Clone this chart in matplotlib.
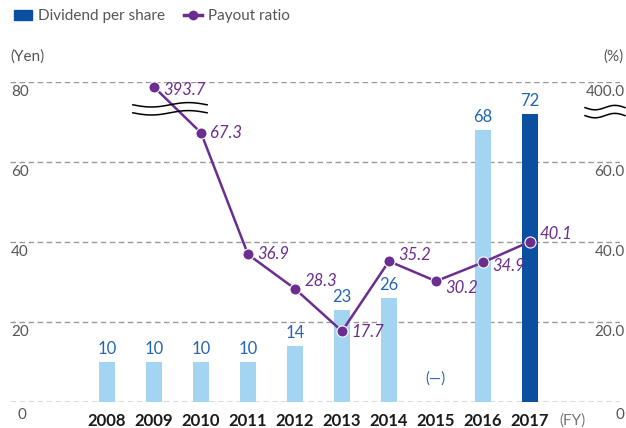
import numpy as np
import matplotlib.pyplot as plt
from matplotlib.patches import Patch
from matplotlib.lines import Line2D

plt.rcParams['font.family'] = ['Lato', 'DejaVu Sans']

years = [2008, 2009, 2010, 2011, 2012, 2013, 2014, 2015, 2016, 2017]
dividend = [10, 10, 10, 10, 14, 23, 26, None, 68, 72]
payout = [None, 393.7, 67.3, 36.9, 28.3, 17.7, 35.2, 30.2, 34.9, 40.1]
left_ticks = [0, 20, 40, 60, 80]
right_ticks = ['0', '20.0', '40.0', '60.0', '400.0']

# vertical nudge of each payout label (data units)
lbl_dy = [0, -0.7, 0, 0, 2.0, -0.3, 1.5, -1.7, -1.0, 2.0]

light = '#a3d4f1'
dark = '#0a4fa0'
purple = '#6b2d8f'
lbl_blue = '#2566b0'
gray = '#555555'

fig = plt.figure(figsize=(6.26, 4.28), dpi=100)
ax = fig.add_axes([10 / 626, 26 / 428, 610 / 626, 320 / 428])
x_lo, x_hi = 2008 - 97 / 47, 2017 + 90 / 47
ax.set_xlim(x_lo, x_hi)
ax.set_ylim(0, 80)
ax.axis('off')

# grid
for v in left_ticks:
    ax.axhline(v, color='#999999' if v else '#444444', lw=1, ls=(0, (4, 2.5)), zorder=1)

# bars
for y, d in zip(years, dividend):
    if d is None:
        ax.text(y, 4, '(—)', color=lbl_blue, ha='center', va='bottom', fontsize=11)
        continue
    c = dark if y == 2017 else light
    ax.bar(y, d, width=16 / 47, color=c, zorder=2)
    ax.text(y, d + 1.2, str(d), color=lbl_blue, ha='center', va='bottom', fontsize=12)

# payout line (2009 value sits above the axis break, scaled by 1/5)
px = [y for y, p in zip(years, payout) if p is not None]
pv = [p for p in payout if p is not None]
pdy = [d for d, p in zip(lbl_dy, payout) if p is not None]
py = [p / 5 if p > 80 else p for p in pv]
ax.plot(px, py, color=purple, lw=1.8, marker='o', ms=8, mec='white', mew=0.8,
        zorder=4, clip_on=False)
for x, yv, v, dy in zip(px, py, pv, pdy):
    ax.text(x + 0.2, yv + dy, '%.1f' % v, color=purple, style='italic',
            ha='left', va='center', fontsize=12, zorder=5)

# axis break waves
t = np.linspace(0, 1, 60)
for x0, x1, yc in [(2008.55, 2010.13, 73.3), (2018.17, 2019.02, 72.6)]:
    xs = x0 + (x1 - x0) * t
    for off in (1.0, -1.0):
        ax.plot(xs, yc + off - 0.55 * np.sin(2 * np.pi * t),
                color='black', lw=1.1, zorder=6, clip_on=False)

# tick labels
for v in left_ticks[1:]:
    ax.text(x_lo + 0.02, v - 0.8, str(v), ha='left', va='top', color=gray, fontsize=11)
for v, s in zip(left_ticks[1:], right_ticks[1:]):
    ax.text(x_hi + 0.1, v - 0.8, s, ha='right', va='top', color=gray, fontsize=11)
fig.text(22 / 626, 1 - 415 / 428, '0', ha='center', va='center', color=gray, fontsize=11)
fig.text(620 / 626, 1 - 415 / 428, '0', ha='center', va='center', color=gray, fontsize=11)

for y in years:
    ax.text(y, -2.8, str(y), ha='center', va='top', fontsize=12, fontweight='bold',
            color='#1a1a1a')
ax.text(2017 + 0.62, -2.8, '(FY)', ha='left', va='top', fontsize=11, color='#777777')

fig.text(10 / 626, 1 - 57 / 428, '(Yen)', ha='left', va='center', color=gray, fontsize=11)
fig.text(624 / 626, 1 - 57 / 428, '(%)', ha='right', va='center', color=gray, fontsize=11)

handles = [Patch(color=dark, label='Dividend per share'),
           Line2D([], [], color=purple, lw=2.5, marker='o', ms=6, label='Payout ratio')]
fig.legend(handles=handles, loc='upper left', bbox_to_anchor=(0.0, 1.01), ncol=2,
           frameon=False, fontsize=11, labelcolor=gray, handlelength=1.2,
           handletextpad=0.4, columnspacing=1.2)

fig.savefig('out.png', dpi=100)
